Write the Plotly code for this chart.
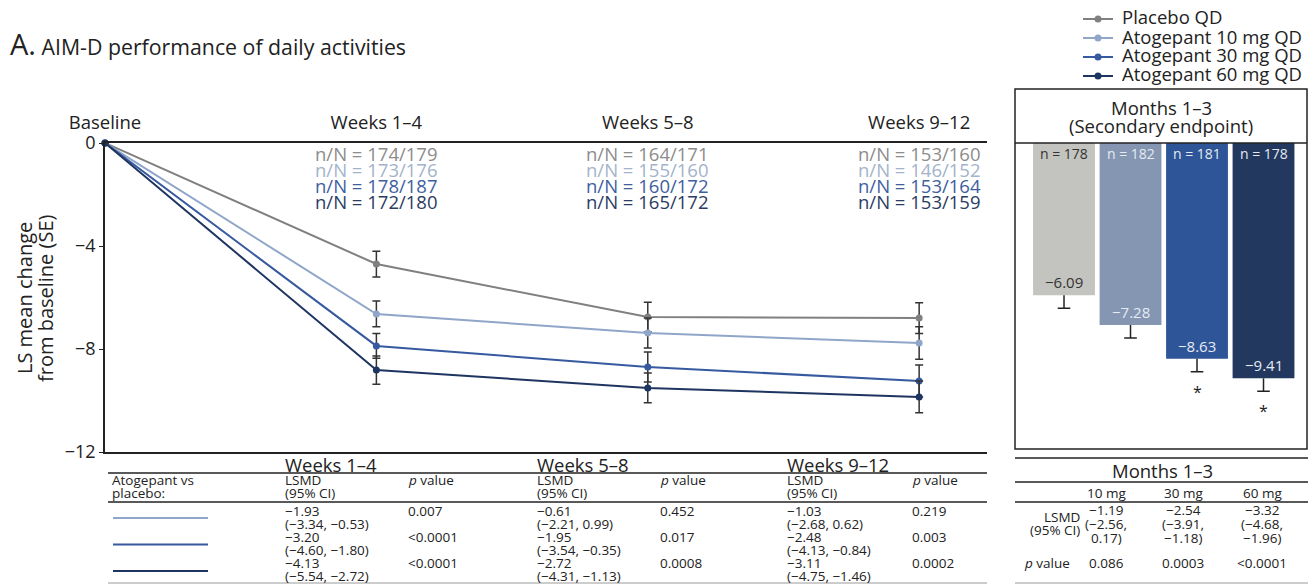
import plotly.graph_objects as go

# ---------------- data ----------------
period_labels = ["Baseline", "Weeks 1–4", "Weeks 5–8", "Weeks 9–12"]
series_names = ["Placebo QD", "Atogepant 10 mg QD", "Atogepant 30 mg QD", "Atogepant 60 mg QD"]

placebo_ls = [0, -4.70, -6.76, -6.80]
atg10_ls = [0, -6.64, -7.38, -7.77]
atg30_ls = [0, -7.88, -8.70, -9.24]
atg60_ls = [0, -8.82, -9.51, -9.86]

placebo_se = [None, 0.50, 0.58, 0.60]
atg10_se = [None, 0.50, 0.58, 0.63]
atg30_se = [None, 0.48, 0.58, 0.62]
atg60_se = [None, 0.55, 0.58, 0.62]

placebo_nN = ["174/179", "164/171", "153/160"]
atg10_nN = ["173/176", "155/160", "146/152"]
atg30_nN = ["178/187", "160/172", "153/164"]
atg60_nN = ["172/180", "165/172", "153/159"]

bar_groups = ["Placebo", "10 mg", "30 mg", "60 mg"]
bar_values = [-6.09, -7.28, -8.63, -9.41]
bar_se = [0.52, 0.52, 0.52, 0.52]
bar_n = [178, 182, 181, 178]
bar_sig = ["", "", "*", "*"]

table_periods = ["Weeks 1–4", "Weeks 5–8", "Weeks 9–12"]
lsmd_w1_4 = ["−1.93", "−3.20", "−4.13"]
ci_w1_4 = ["(−3.34, −0.53)", "(−4.60, −1.80)", "(−5.54, −2.72)"]
p_w1_4 = ["0.007", "<0.0001", "<0.0001"]
lsmd_w5_8 = ["−0.61", "−1.95", "−2.72"]
ci_w5_8 = ["(−2.21, 0.99)", "(−3.54, −0.35)", "(−4.31, −1.13)"]
p_w5_8 = ["0.452", "0.017", "0.0008"]
lsmd_w9_12 = ["−1.03", "−2.48", "−3.11"]
ci_w9_12 = ["(−2.68, 0.62)", "(−4.13, −0.84)", "(−4.75, −1.46)"]
p_w9_12 = ["0.219", "0.003", "0.0002"]

month_doses = ["10 mg", "30 mg", "60 mg"]
month_lsmd = ["−1.19", "−2.54", "−3.32"]
month_ci_lo = ["(−2.56,", "(−3.91,", "(−4.68,"]
month_ci_hi = ["0.17)", "−1.18)", "−1.96)"]
month_p = ["0.086", "0.0003", "<0.0001"]

# ---------------- styling ----------------
W, H = 1316, 584
FONT = "Open Sans"
line_colors = ["#808080", "#8fa6c9", "#36599f", "#1f3561"]
nn_colors = ["#8c8c8c", "#a3b3cb", "#3e5e9e", "#2b3c63"]
bar_colors = ["#c3c3bf", "#8496b2", "#2e5597", "#22385f"]
bar_text_colors = ["#333333", "#e6ebf3", "#e6ebf3", "#e6ebf3"]
INK = "#222222"


def X(px):
    return px / W


def Y(py):
    return 1 - py / H


fig = go.Figure()

xs = list(range(len(period_labels)))
ls_all = [placebo_ls, atg10_ls, atg30_ls, atg60_ls]
se_all = [placebo_se, atg10_se, atg30_se, atg60_se]
nn_all = [placebo_nN, atg10_nN, atg30_nN, atg60_nN]

for name, ys, se, col in zip(series_names, ls_all, se_all, line_colors):
    fig.add_trace(go.Scatter(
        x=xs, y=ys, name=name, mode="lines+markers",
        line=dict(color=col, width=2), marker=dict(color=col, size=7),
        error_y=dict(type="data", array=se, color="#333333", thickness=1.5, width=4),
        cliponaxis=False, xaxis="x", yaxis="y", showlegend=False,
    ))

# bars (months 1-3)
bx = list(range(len(bar_groups)))
fig.add_trace(go.Bar(
    x=bx, y=bar_values, width=0.93, marker=dict(color=bar_colors, line=dict(width=0)),
    error_y=dict(type="data", symmetric=False, array=[0] * 4, arrayminus=bar_se,
                 color=INK, thickness=1.5, width=0),
    xaxis="x2", yaxis="y2", showlegend=False,
))
fig.add_trace(go.Scatter(
    x=bx, y=[v - s for v, s in zip(bar_values, bar_se)], mode="markers",
    marker=dict(symbol="line-ew", size=9, line=dict(color=INK, width=1.5)),
    xaxis="x2", yaxis="y2", showlegend=False, cliponaxis=False,
))

annotations = []
shapes = []

# title
annotations.append(dict(
    x=X(8), y=Y(43), xref="paper", yref="paper", xanchor="left", yanchor="middle",
    text="<span style='font-size:29px'>A.</span> AIM-D performance of daily activities",
    showarrow=False, font=dict(size=21.3, color=INK, family=FONT),
))
# y-axis title (two lines, tight spacing)
for lx, line in zip([24, 45], ["LS mean change", "from baseline (SE)"]):
    annotations.append(dict(
        x=X(lx), y=Y(298), xref="paper", yref="paper", xanchor="center", yanchor="middle",
        text=line, textangle=-90, showarrow=False,
        font=dict(size=20, color=INK, family=FONT),
    ))

# legend (drawn as line + dot + label)
for i, (name, col) in enumerate(zip(series_names, line_colors)):
    ty = 17 + 19 * i
    shapes.append(dict(type="line", xref="paper", yref="paper", x0=X(1083), x1=X(1113),
                       y0=Y(ty + 2), y1=Y(ty + 2), line=dict(color=col, width=2)))
    shapes.append(dict(type="circle", xref="paper", yref="paper", x0=X(1094.5), x1=X(1101.5),
                       y0=Y(ty + 5.5), y1=Y(ty - 1.5), fillcolor=col, line=dict(width=0)))
    annotations.append(dict(x=X(1120), y=Y(ty), xref="paper", yref="paper", xanchor="left",
                            yanchor="middle", text=name, showarrow=False,
                            font=dict(size=18.5, color=INK, family=FONT)))

# n/N labels
for si, (nn, col) in enumerate(zip(nn_all, nn_colors)):
    for pi, t in enumerate(nn):
        annotations.append(dict(
            x=pi + 1, y=Y(153 + 16 * si), xref="x", yref="paper",
            xanchor="center", yanchor="middle", text="n/N = " + t, showarrow=False,
            font=dict(size=18.5, color=col, family=FONT),
        ))

# bar panel box + header
shapes.append(dict(type="rect", xref="paper", yref="paper", x0=X(1015), x1=X(1307),
                   y0=Y(449), y1=Y(89), line=dict(color=INK, width=1.5)))
shapes.append(dict(type="line", xref="paper", yref="paper", x0=X(1015), x1=X(1307),
                   y0=Y(143), y1=Y(143), line=dict(color=INK, width=1.5)))
for hy, line in zip([107, 125], ["Months 1–3", "(Secondary endpoint)"]):
    annotations.append(dict(
        x=X(1161), y=Y(hy), xref="paper", yref="paper", xanchor="center", yanchor="middle",
        text=line, showarrow=False, font=dict(size=18.5, color=INK, family=FONT),
    ))
for i, (v, n, tc) in enumerate(zip(bar_values, bar_n, bar_text_colors)):
    annotations.append(dict(x=i, y=0, xref="x2", yref="y2", xanchor="center", yanchor="top",
                            yshift=1, text=f"n = {n}", showarrow=False,
                            font=dict(size=14, color=tc, family=FONT)))
    annotations.append(dict(x=i, y=v, xref="x2", yref="y2", xanchor="center", yanchor="bottom",
                            yshift=1, text=f"{v:.2f}".replace("-", "−"), showarrow=False,
                            font=dict(size=15, color=tc, family=FONT)))
for i, (v, s, sig) in enumerate(zip(bar_values, bar_se, bar_sig)):
    if sig:
        annotations.append(dict(x=i, y=v - s, xref="x2", yref="y2", xanchor="center",
                                yanchor="middle", yshift=-20, text=sig, showarrow=False,
                                font=dict(size=16, color=INK, family=FONT)))

# ---------------- left table ----------------
TF = 13.5


def txt(x, y, t, anchor="left", size=TF):
    annotations.append(dict(x=X(x), y=Y(y), xref="paper", yref="paper", xanchor=anchor,
                            yanchor="middle", text=t, showarrow=False,
                            font=dict(size=size, color=INK, family=FONT)))


def hline(x0, x1, y, color=INK, width=1.5):
    shapes.append(dict(type="line", xref="paper", yref="paper", x0=X(x0), x1=X(x1),
                       y0=Y(y), y1=Y(y), line=dict(color=color, width=width)))


col_x = [(283, 406), (535, 658), (785, 910)]
lsmd_cols = [lsmd_w1_4, lsmd_w5_8, lsmd_w9_12]
ci_cols = [ci_w1_4, ci_w5_8, ci_w9_12]
p_cols = [p_w1_4, p_w5_8, p_w9_12]

for (lx, px), per, ls, ci, pv in zip(col_x, table_periods, lsmd_cols, ci_cols, p_cols):
    txt(lx, 464, per, size=18.5)
    txt(lx, 480, "LSMD")
    txt(lx, 493, "(95% CI)")
    txt(px, 480, "<i>p</i> value")
    for r in range(3):
        txt(lx, 511 + 26 * r, ls[r])
        txt(lx, 524 + 26 * r, ci[r])
        txt(px, 511 + 26 * r, pv[r])
txt(110, 480, "Atogepant vs")
txt(110, 493, "placebo:")
hline(108, 987, 473)
hline(108, 987, 502)
hline(108, 987, 583, color="#9a9a9a", width=1)
for r, col in enumerate(line_colors[1:]):
    hline(113, 208, 518 + 26.5 * r, color=col, width=2.2)

# ---------------- right table ----------------
hline(1015, 1308, 458)
hline(1015, 1308, 482)
hline(1015, 1308, 502)
hline(1015, 1308, 583, color="#9a9a9a", width=1)
txt(1162, 470, "Months 1–3", anchor="center", size=18.5)
mcx = [1106, 1183, 1262]
for cx, d, l, lo, hi, p in zip(mcx, month_doses, month_lsmd, month_ci_lo, month_ci_hi, month_p):
    txt(cx, 493, d, anchor="center")
    txt(cx, 510, l, anchor="center")
    txt(cx, 524, lo, anchor="center")
    txt(cx, 538, hi, anchor="center")
    txt(cx, 563, p, anchor="center")
txt(1082, 517, "LSMD", anchor="right")
txt(1082, 530, "(95% CI)", anchor="right")
txt(1022, 563, "<i>p</i> value")

fig.update_layout(
    width=W, height=H, margin=dict(l=0, r=0, t=0, b=0, autoexpand=False),
    paper_bgcolor="white", plot_bgcolor="white", showlegend=False,
    font=dict(family=FONT, color=INK),
    xaxis=dict(domain=[X(105), X(987)], range=[0, 3.25], side="top", anchor="y",
               tickvals=xs, ticktext=period_labels, ticks="", showline=True, mirror=True,
               linecolor=INK, linewidth=1.5, showgrid=False, zeroline=False, automargin=False,
               tickfont=dict(size=18.5, color=INK), ticklabelstandoff=5),
    yaxis=dict(domain=[Y(452), Y(143)], range=[-12, 0], anchor="x", automargin=False,
               tickvals=[0, -4, -8, -12], ticktext=["0", "−4", "−8", "−12"],
               ticks="outside", ticklen=4, tickcolor=INK, showline=True, linecolor=INK,
               linewidth=1.5, showgrid=False, zeroline=False,
               tickfont=dict(size=18, color=INK)),
    xaxis2=dict(domain=[X(1015), X(1307)], range=[-0.737, 3.654], anchor="y2",
                visible=False, automargin=False),
    yaxis2=dict(domain=[Y(449), Y(143)], range=[-12.24, 0], anchor="x2", visible=False,
                automargin=False),
    annotations=annotations, shapes=shapes,
)

# remove the browser's default 8px page margin so the figure sits at the window origin
fig.write_html("out.html", config={"displayModeBar": False},
               post_script="document.body.style.margin='0';document.body.style.overflow='hidden';")
